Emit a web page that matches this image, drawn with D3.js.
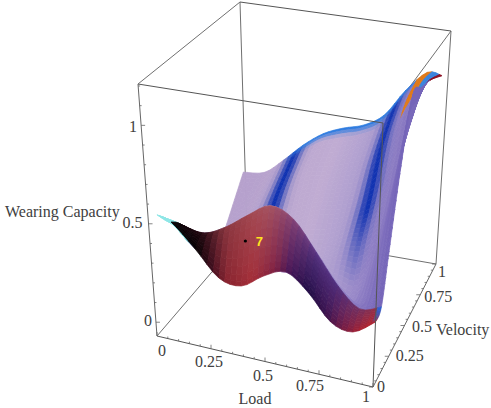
<!DOCTYPE html>
<html>
<head>
<meta charset="utf-8">
<script src="https://cdn.jsdelivr.net/npm/d3@7/dist/d3.min.js"></script>
<style>
html,body{margin:0;padding:0;background:#fff}
text{font-family:"Liberation Serif",serif;fill:#404040;font-size:16px}
</style>
</head>
<body>
<svg id="chart" width="491" height="408"></svg>
<script>
// Sampled wearing capacity over normalised load and velocity.
const loadSamples = [0.04, 0.1, 0.2, 0.3, 0.4, 0.5, 0.6, 0.7, 0.8, 0.9, 1];
const velocitySamples = [0, 0.1, 0.2, 0.35, 0.5, 0.65, 0.8, 1];
// The sampled domain stops short of velocity 1 at the two ends of the load range.
const velocityReach = [0.9, 1, 1, 1, 1, 1, 1, 1, 1, 1, 0.9];
const wearingCapacity = [
  [0.555, 0.532, 0.419, 0.297, 0.281, 0.354, 0.397, 0.317, 0.198, 0.173, 0.245],
  [0.480, 0.468, 0.450, 0.503, 0.585, 0.654, 0.608, 0.466, 0.320, 0.230, 0.269],
  [0.416, 0.314, 0.314, 0.314, 0.314, 0.314, 0.314, 0.250, 0.186, 0.218, 0.493],
  [0.314, 0.186, 0.250, 0.212, 0.186, 0.186, 0.212, 0.148, 0.122, 0.359, 0.852],
  [0.122, 0.122, 0.186, 0.186, 0.186, 0.186, 0.212, 0.276, 0.314, 0.532, 1.146],
  [0.058, 0.122, 0.186, 0.237, 0.288, 0.340, 0.365, 0.404, 0.493, 0.736, 1.114],
  [0.158, 0.186, 0.263, 0.352, 0.442, 0.468, 0.506, 0.557, 0.724, 0.954, 1.088],
  [0.322, 0.276, 0.363, 0.464, 0.544, 0.592, 0.626, 0.698, 0.852, 0.967, 1.018]
];
const markedPoint = {load: 0.4, velocity: 0.05, capacity: 0.48, label: "7"};
const loadTicks = [0, 0.25, 0.5, 0.75, 1];
const velocityTicks = [0, 0.25, 0.5, 0.75, 1];
const capacityTicks = [0, 0.5, 1];
const capacityRange = [-0.07, 1.21];

// Screen corners of the plot box, indexed [load][velocity][height].
const box = [
  [[[157,336],[138,84]], [[247,231],[240,2]]],
  [[[373,387],[383,123]], [[436,264],[451,31]]]
];
const unit = d3.scaleLinear().domain([0,1]).range([0,1]);
const heightScale = d3.scaleLinear().domain(capacityRange).range([0,1]);
const mix = (a, b, t) => d3.interpolateNumber(a, b)(t);

function project(load, velocity, capacity){
  const l = unit(load), v = unit(velocity), w = heightScale(capacity);
  return [0,1].map(k => {
    const a = mix(mix(box[0][0][0][k], box[1][0][0][k], l), mix(box[0][1][0][k], box[1][1][0][k], l), v);
    const b = mix(mix(box[0][0][1][k], box[1][0][1][k], l), mix(box[0][1][1][k], box[1][1][1][k], l), v);
    return mix(a, b, w);
  });
}

// Smooth resampling of a sequence of samples, passing through every sample.
function smooth(values, sub){
  const out = [], n = values.length;
  for(let i = 0; i < n - 1; i++){
    const p0 = values[Math.max(i-1,0)], p1 = values[i], p2 = values[i+1], p3 = values[Math.min(i+2,n-1)];
    for(let s = 0; s < sub; s++){
      const t = s / sub;
      out.push(0.5*((2*p1)+(p2-p0)*t+(2*p0-5*p1+4*p2-p3)*t*t+(3*p1-p0-3*p2+p3)*t*t*t));
    }
  }
  out.push(values[n-1]);
  return out;
}
const SUB_ROW = 10, SUB_COL = 4;
function refine(getter){
  const cols = loadSamples.map((_, i) => smooth(velocitySamples.map((_, j) => getter(i,j)), SUB_ROW));
  return cols[0].map((_, r) => smooth(cols.map(c => c[r]), SUB_COL));
}
const fineL = refine((i,j) => loadSamples[i]);
const fineV = refine((i,j) => velocitySamples[j]*velocityReach[i]);
const fineZ = refine((i,j) => wearingCapacity[j][i]);

// Surface shading
const rgbScale = (d, r) => d3.scaleLinear().domain(d).range(r).interpolate(d3.interpolateRgb).clamp(true);
const lowerEdge = rgbScale(
  [0.1,0.2,0.27,0.33,0.45,0.55,0.62,0.7,0.78,0.85,0.93,1],
  ["#080204","#000000","#3c0a1c","#86222e","#a52c36","#7e2040","#401255","#1c0a42","#3a0f48","#741a42","#a82030","#b82428"]);
const ridgeEdge = rgbScale(
  [0.1,0.2,0.3,0.4,0.5,0.6,0.7,0.8,0.9,1],
  ["#100408","#2a0a14","#8a3840","#a04850","#a85866","#8a4878","#5e3888","#503080","#703060","#a03040"]);
const sheet = rgbScale(
  [0,0.2,0.5,0.65,0.8,0.9,1],
  ["#b5a0cc","#b8a4ce","#c0acd2","#b0a0d0","#9888c8","#8676c0","#7464b8"]);
const toBlue = d3.interpolateRgb;

function shade(L, t){
  if(L < 0.095 && t < 2) return "#8fe6e6";
  if(t < 1){
    const c = toBlue(lowerEdge(L), ridgeEdge(L))(t);
    return L > 0.97 ? toBlue(c, "#2a60d4")(Math.min(1,(L-0.97)/0.02)*t) : c;
  }
  const g = (c, w) => Math.exp(-Math.pow((L-c)/w, 2));
  const f1 = Math.min(1, Math.max(0, (t-4.2)/1.2));
  const f2 = Math.min(1, Math.max(0, (t-3.3)/1.5));
  const amount = Math.max(0.97*g(0.265,0.05)*f1, 0.95*g(0.76,0.045)*f2);
  let c = toBlue(sheet(L), "#0a2eb0")(amount);
  const edgeFade = Math.min(1, Math.max(0, (L-0.2)/0.1));
  if(t > 6.72) c = toBlue(c, "#2f7ce0")(Math.min(1,(t-6.72)/0.2) * edgeFade);
  if(L > 0.85 && t > 5.9){
    if(L < 0.94) c = "#e07a1a";
    else if(L < 0.98) c = "#3a82dc";
    else c = "#8e1024";
  }
  return c;
}

const svg = d3.select("#chart");
const line = d3.line();
const edge = (a, b, col) => svg.append("path")
  .attr("d", line([project(...a), project(...b)]))
  .attr("fill","none").attr("stroke", col || "#707070").attr("stroke-width",1);

const zLo = capacityRange[0], zHi = capacityRange[1];
// Box edges behind the surface
edge([0,0,zLo],[0,1,zLo]);
edge([0,1,zLo],[1,1,zLo]);
edge([0,1,zLo],[0,1,zHi]);
edge([1,0,zHi],[1,1,zHi]);

// Quads painted from the far corner to the near one
const quads = [];
for(let r = fineL.length-2; r >= 0; r--){
  for(let c = 0; c < fineL[0].length-1; c++){
    const node = (a,b) => project(fineL[a][b], fineV[a][b], fineZ[a][b]);
    quads.push({
      pts:[node(r,c),node(r,c+1),node(r+1,c+1),node(r+1,c)],
      col:shade((fineL[r][c]+fineL[r][c+1])/2, (r+0.5)/SUB_ROW)
    });
  }
}
svg.append("g").selectAll("path").data(quads).join("path")
  .attr("d", d => line(d.pts)+"Z")
  .attr("fill", d => d.col).attr("stroke", d => d.col).attr("stroke-width",0.7).attr("stroke-linejoin","round");

// Box edges in front of the surface
edge([0,0,zLo],[1,0,zLo],"#555");
edge([1,0,zLo],[1,1,zLo],"#666");
edge([0,0,zLo],[0,0,zHi],"#666");
edge([1,0,zLo],[1,0,zHi],"#555");
edge([1,1,zLo],[1,1,zHi]);
edge([0,0,zHi],[1,0,zHi],"#555");
edge([0,0,zHi],[0,1,zHi]);
edge([0,1,zHi],[1,1,zHi],"#555");

// Tick marks
function tickMark(p, dx, dy){
  svg.append("line").attr("x1",p[0]).attr("y1",p[1]).attr("x2",p[0]+dx).attr("y2",p[1]+dy)
    .attr("stroke","#666").attr("stroke-width",0.8);
}
const isMajor = (v, step) => Math.abs(v/step - Math.round(v/step)) < 1e-6;
d3.range(0,21).map(i => i*0.05).forEach(v => {
  const big = isMajor(v,0.25);
  tickMark(project(v,0,zLo), 0, big?-4:-2);
  tickMark(project(1,v,zLo), big?-4:-2, 0);
});
d3.range(0,13).map(i => i*0.1).forEach(v => {
  tickMark(project(0,0,v), isMajor(v,0.5)?4:2, 0);
});

// Tick labels
const loadLabelShift = [[5,20],[-2,18],[-2,19],[-9,17],[-7,15]];
const velocityLabelShift = [[8,5],[21,5],[17.5,6],[18,7],[6,13]];
const capacityLabelShift = [[-4,4],[-6,4],[-4,7]];
function label(p, text, shift, anchor){
  svg.append("text").attr("x",p[0]+shift[0]).attr("y",p[1]+shift[1]).attr("text-anchor",anchor).text(text);
}
loadTicks.forEach((v,i) => label(project(v,0,zLo), String(v), loadLabelShift[i], "middle"));
velocityTicks.forEach((v,i) => label(project(1,v,zLo), String(v), velocityLabelShift[i], "middle"));
capacityTicks.forEach((v,i) => label(project(0,0,v), String(v), capacityLabelShift[i], "end"));

// Axis titles
svg.append("text").attr("x",5).attr("y",217).text("Wearing Capacity");
svg.append("text").attr("x",255).attr("y",404).attr("text-anchor","middle").text("Load");
svg.append("text").attr("x",436).attr("y",335).text("Velocity");

// Marked operating point
const mp = project(markedPoint.load, markedPoint.velocity, markedPoint.capacity);
svg.append("circle").attr("cx",mp[0]+1).attr("cy",mp[1]).attr("r",1.6).attr("fill","#000");
svg.append("text").attr("x",mp[0]+15).attr("y",mp[1]+5).attr("text-anchor","middle")
  .style("font-family","'Liberation Sans',sans-serif").style("font-weight","bold").style("font-size","13px").style("fill","#ffe41e")
  .text(markedPoint.label);
</script>
</body>
</html>
